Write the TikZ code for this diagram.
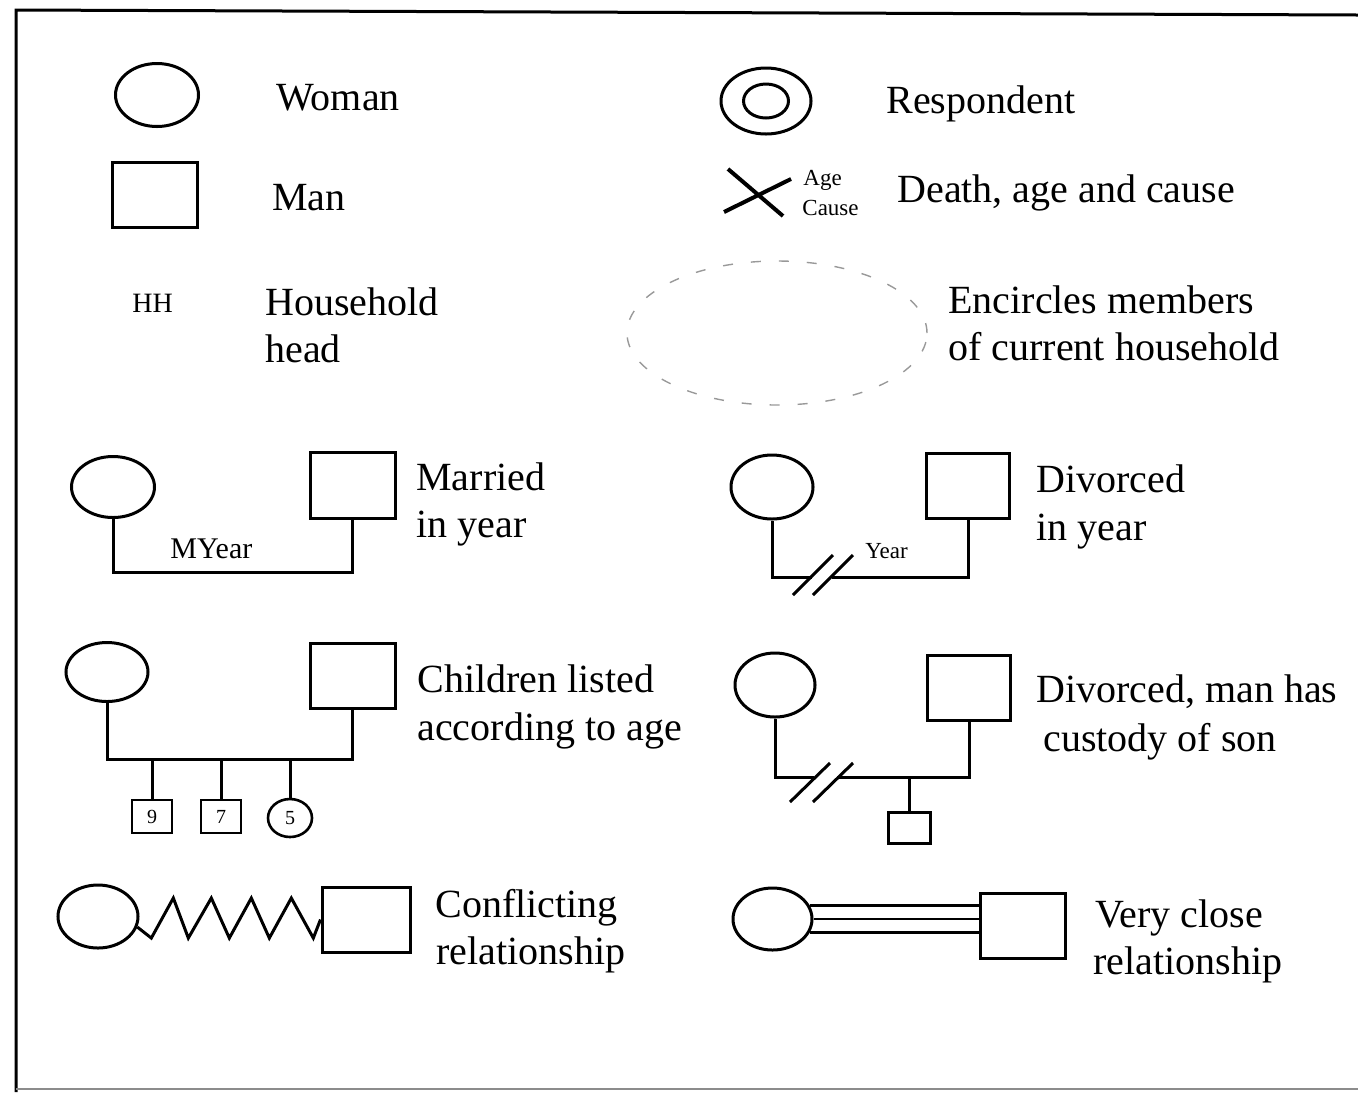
\documentclass[tikz,border=0pt]{standalone}
\usepackage{fontspec}
\setmainfont{Liberation Serif}
\usetikzlibrary{shapes.geometric,calc}
\begin{document}
\begin{tikzpicture}[x=0.5pt,y=-0.5pt,
  ln/.style={line width=1.5pt},
  fem/.style={ellipse,draw,line width=1.5pt,inner sep=0pt},
  mal/.style={rectangle,draw,line width=1.5pt,inner sep=0pt},
  lbl/.style={anchor=base west,inner sep=0pt,font=\fontsize{20pt}{24pt}\selectfont},
  smalllbl/.style={anchor=base west,inner sep=0pt,font=\fontsize{11.5pt}{13pt}\selectfont},
  kid/.style={line width=1.3pt,inner sep=0pt,font=\fontsize{10pt}{12pt}\selectfont},
]
\useasboundingbox (0,0) rectangle (1358,1094);
% frame
\coordinate (f1) at (16,10);
\coordinate (f2) at (1358,15);
\coordinate (f3) at (16,1092);
\coordinate (f4) at (1358,1089);
\coordinate (f5) at (16,1089);
\draw[line width=1.5pt] (f2) -- (f1) -- (f3);
\draw[black!45,line width=1pt] (f5) -- (f4);

% Woman / Man
\node[fem,minimum width=41.5pt,minimum height=31.5pt] (w1) at (157,95) {};
\node[lbl] (tw1) at (276,110) {Woman};
\node[mal,minimum width=42.5pt,minimum height=32.5pt] (m1) at (154.5,194.5) {};
\node[lbl] (tm1) at (272,210) {Man};

% Household head
\node[anchor=base west,inner sep=0pt,font=\fontsize{14pt}{16pt}\selectfont] (hh) at (132,312) {HH};
\node[lbl] (thh1) at (265,315) {Household};
\node[lbl] (thh2) at (265,362) {head};

% Respondent
\node[fem,minimum width=45pt,minimum height=33pt] (r1) at (766,101) {};
\node[fem,minimum width=22.5pt,minimum height=17pt] (r2) at (r1.center) {};
\node[lbl] (tr) at (886,113) {Respondent};

% Death
\coordinate (xa) at (724,212);
\coordinate (xb) at (791,179);
\coordinate (xc) at (728,169);
\coordinate (xd) at (783,216);
\draw[line width=2pt] (xa) -- (xb) (xc) -- (xd);
\node[smalllbl] (tage) at (803,185) {Age};
\node[smalllbl] (tcause) at (802,215) {Cause};
\node[lbl] (tdeath) at (897,202) {Death, age and cause};

% Household circle
\node[ellipse,draw=black!40,dash pattern=on 5pt off 9pt,line width=0.7pt,
  minimum width=150pt,minimum height=72pt,inner sep=0pt] (hhc) at (777,333) {};
\node[lbl] (te1) at (948,313) {Encircles members};
\node[lbl] (te2) at (948,360) {of current household};

% Married
\node[fem,minimum width=41.5pt,minimum height=30.5pt] (w2) at (113,487) {};
\node[mal,minimum width=42.5pt,minimum height=33pt] (m2) at (352.5,485) {};
\draw[ln] (w2.south) -- ++(0,53) -| (m2.south);
\node[anchor=base west,inner sep=0pt,font=\fontsize{15pt}{17pt}\selectfont] (tmy) at (170,558) {MYear};
\node[lbl] (tma1) at (416,490) {Married};
\node[lbl] (tma2) at (416,537) {in year};

% Divorced
\node[fem,minimum width=41pt,minimum height=32pt] (w3) at (772,487) {};
\node[mal,minimum width=41.5pt,minimum height=32.5pt] (m3) at (968,485.5) {};
\coordinate (d3a) at (812,577);
\coordinate (d3b) at (832,577);
\draw[ln] (w3.south) |- (d3a);
\draw[ln] (d3b) -| (m3.south);
\draw[ln] ($(d3a)+(-19,18)$) -- ($(d3a)+(21,-22)$);
\draw[ln] ($(d3b)+(-19,18)$) -- ($(d3b)+(21,-22)$);
\node[anchor=base west,inner sep=0pt,font=\fontsize{11.5pt}{13pt}\selectfont] (tyr) at (865,558) {Year};
\node[lbl] (tdv1) at (1036,492) {Divorced};
\node[lbl] (tdv2) at (1036,540) {in year};

% Children
\node[fem,minimum width=41pt,minimum height=29.5pt] (w4) at (107,672) {};
\node[mal,minimum width=42.5pt,minimum height=32.5pt] (m4) at (352.5,675.5) {};
\draw[ln] (w4.south) -- ++(0,56.5) -| (m4.south);
\coordinate (cb) at (200,758);
\node[mal,kid,minimum width=20pt,minimum height=16.5pt] (c1) at (152,816.5) {9};
\node[mal,kid,minimum width=20pt,minimum height=16.5pt] (c2) at (221,816.5) {7};
\node[fem,kid,minimum width=22pt,minimum height=19pt] (c3) at (290,818) {5};
\draw[ln] (c1.north) -- (c1.north |- cb);
\draw[ln] (c2.north) -- (c2.north |- cb);
\draw[ln] (c3.north) -- (c3.north |- cb);
\node[lbl] (tch1) at (417,692) {Children listed};
\node[lbl] (tch2) at (417,740) {according to age};

% Divorced, custody
\node[fem,minimum width=40pt,minimum height=32pt] (w5) at (775,685) {};
\node[mal,minimum width=41.5pt,minimum height=32.5pt] (m5) at (969,687.5) {};
\coordinate (d5a) at (814,777);
\coordinate (d5b) at (837,777);
\draw[ln] (w5.south) |- (d5a);
\draw[ln] (d5b) -| (m5.south);
\draw[ln] ($(d5a)+(-24,25)$) -- ($(d5a)+(16,-14)$);
\draw[ln] ($(d5b)+(-24,25)$) -- ($(d5b)+(16,-14)$);
\node[mal,minimum width=21pt,minimum height=15.5pt] (s5) at (909,827.5) {};
\draw[ln] (s5.north) -- (s5.north |- d5a);
\node[lbl] (tcu1) at (1036,702) {Divorced, man has};
\node[lbl] (tcu2) at (1043,751) {custody of son};

% Conflicting
\node[fem,minimum width=40pt,minimum height=31.5pt] (w6) at (98,916.5) {};
\node[mal,minimum width=44pt,minimum height=32.5pt] (m6) at (366,919.5) {};
\draw[ln,line join=miter] (w6.-15) -- ++(14,11) -- ++(22,-40) -- ++(15,40) -- ++(23,-40)
  -- ++(18,40) -- ++(22,-40) -- ++(18,40) -- ++(22,-40) -- ++(22,40) -- (m6.west);
\node[lbl] (tco1) at (435,917) {Conflicting};
\node[lbl] (tco2) at (436,964) {relationship};

% Very close
\node[fem,minimum width=39.5pt,minimum height=31pt] (w7) at (772.5,919) {};
\node[mal,minimum width=42.5pt,minimum height=32.5pt] (m7) at (1022.5,925.5) {};
\draw[line width=1.3pt] (w7.20) -- (w7.20 -| m7.west);
\draw[line width=1.3pt] (w7.east) -- (w7.east -| m7.west);
\draw[line width=1.3pt] (w7.-20) -- (w7.-20 -| m7.west);
\node[lbl] (tvc1) at (1095,927) {Very close};
\node[lbl] (tvc2) at (1093,974) {relationship};
\end{tikzpicture}
\end{document}
